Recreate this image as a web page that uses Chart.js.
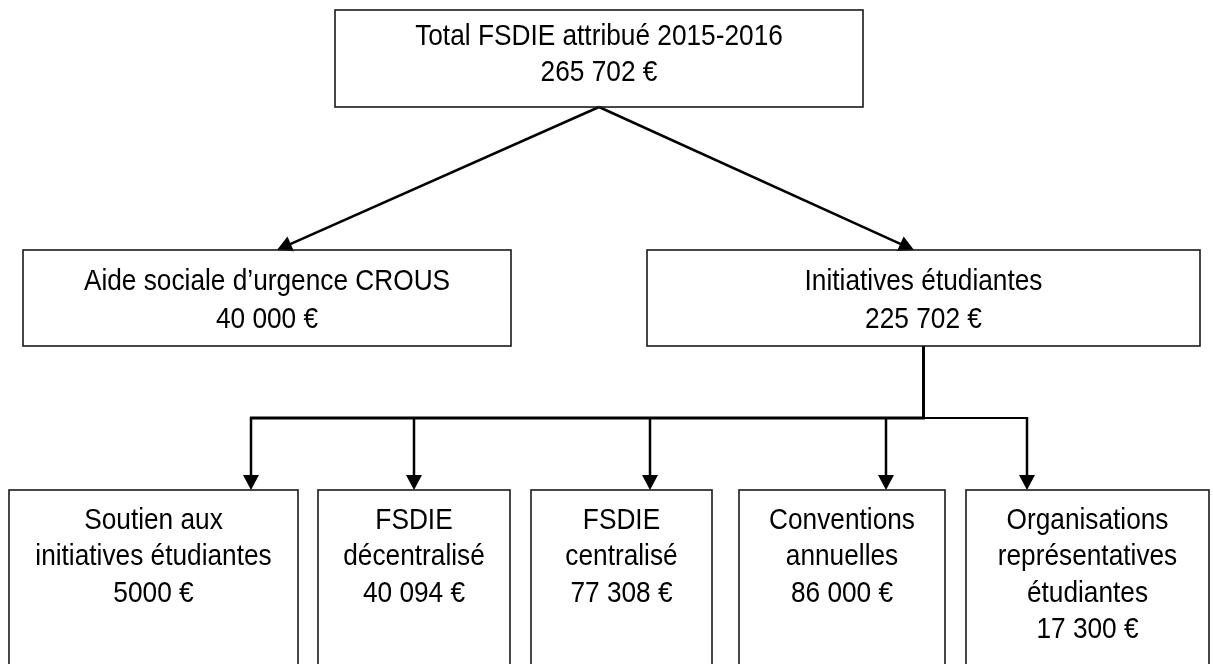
<!DOCTYPE html>
<html>
<head>
<meta charset="utf-8">
<script src="https://cdn.jsdelivr.net/npm/chart.js@4"></script>
<style>
  html, body { margin: 0; padding: 0; background: #ffffff; }
  #wrap { width: 1213px; height: 664px; }
</style>
</head>
<body>
<div id="wrap"><canvas id="c" width="1213" height="664"></canvas></div>
<script>
// ---------- DATA ----------
const nodeLabels = [
  ["Total FSDIE attribué 2015-2016"],
  ["Aide sociale d’urgence CROUS"],
  ["Initiatives étudiantes"],
  ["Soutien aux", "initiatives étudiantes"],
  ["FSDIE", "décentralisé"],
  ["FSDIE", "centralisé"],
  ["Conventions", "annuelles"],
  ["Organisations", "représentatives", "étudiantes"]
];
const nodeValues = [265702, 40000, 225702, 5000, 40094, 77308, 86000, 17300];
const nodeParents = [null, 0, 0, 2, 2, 2, 2, 2];
const currency = "€";

// ---------- LAYOUT (diagram units, drawn through the chart scales) ----------
const boxLeft   = [335, 23, 647, 9, 318, 531, 739, 966];
const boxRight  = [863, 511, 1200, 298, 510, 712, 945, 1209];
const rowTop    = [10, 250, 490];
const rowBottom = [107, 346, 720];
const nodeRow   = [0, 1, 1, 2, 2, 2, 2, 2];
const rowFirstBaseline = [35, 40, 39];
const rowLineGap = [36, 38, 36.3];
const arrowTargetX = [null, 277, 914, 251, 414, 650, 886, 1027];
const busY = 418;

function fmt(v) {
  const s = String(v);
  if (v < 10000) return s + " " + currency;
  return s.replace(/\B(?=(\d{3})+(?!\d))/g, " ") + " " + currency;
}

const diagramPlugin = {
  id: 'diagram',
  beforeDraw(chart) {
    const ctx = chart.ctx;
    ctx.save();
    ctx.fillStyle = '#ffffff';
    ctx.fillRect(0, 0, chart.width, chart.height);
    ctx.restore();
  },
  afterDatasetsDraw(chart) {
    const ctx = chart.ctx;
    const X = v => chart.scales.x.getPixelForValue(v);
    const Y = v => chart.scales.y.getPixelForValue(v);

    function arrowHead(tx, ty, fx, fy, len, half) {
      const ang = Math.atan2(ty - fy, tx - fx);
      ctx.beginPath();
      ctx.moveTo(tx, ty);
      ctx.lineTo(tx - len * Math.cos(ang) + half * Math.sin(ang), ty - len * Math.sin(ang) - half * Math.cos(ang));
      ctx.lineTo(tx - len * Math.cos(ang) - half * Math.sin(ang), ty - len * Math.sin(ang) + half * Math.cos(ang));
      ctx.closePath();
      ctx.fill();
    }

    ctx.save();
    ctx.strokeStyle = '#000000';
    ctx.fillStyle = '#000000';
    ctx.lineCap = 'butt';

    // Level-1 -> level-2 diagonal arrows
    nodeLabels.forEach((_, i) => {
      const p = nodeParents[i];
      if (p === 0) {
        const sx = X((boxLeft[p] + boxRight[p]) / 2);
        const sy = Y(rowBottom[nodeRow[p]]);
        const tx = X(arrowTargetX[i]);
        const ty = Y(rowTop[nodeRow[i]]);
        const ang = Math.atan2(ty - sy, tx - sx);
        ctx.lineWidth = 2.5;
        ctx.beginPath();
        ctx.moveTo(sx, sy);
        ctx.lineTo(tx - 12 * Math.cos(ang), ty - 12 * Math.sin(ang));
        ctx.stroke();
        arrowHead(tx, ty, sx, sy, 15, 8);
      }
    });

    // Level-2 -> level-3 orthogonal connectors
    const kids = nodeLabels.map((_, i) => i).filter(i => nodeParents[i] === 2);
    const trunkX = X((boxLeft[2] + boxRight[2]) / 2);
    const xs = kids.map(i => X(arrowTargetX[i]));
    const minX = Math.min(...xs), maxX = Math.max(...xs);
    const by = Y(busY);
    ctx.lineWidth = 3;
    ctx.beginPath();
    ctx.moveTo(trunkX, Y(rowBottom[1]));
    ctx.lineTo(trunkX, by);
    ctx.stroke();
    ctx.beginPath();
    ctx.moveTo(minX - 1, by);
    ctx.lineTo(trunkX + 1.5, by);
    ctx.stroke();
    ctx.lineWidth = 2;
    ctx.beginPath();
    ctx.moveTo(trunkX, by);
    ctx.lineTo(maxX + 1, by);
    ctx.stroke();
    kids.forEach(i => {
      const x = X(arrowTargetX[i]);
      const ty = Y(rowTop[nodeRow[i]]);
      ctx.lineWidth = 2.5;
      ctx.beginPath();
      ctx.moveTo(x, by - 1);
      ctx.lineTo(x, ty - 12);
      ctx.stroke();
      arrowHead(x, ty, x, by, 15, 8);
    });

    // Boxes and texts
    nodeLabels.forEach((lines, i) => {
      const r = nodeRow[i];
      const l = X(boxLeft[i]), rr = X(boxRight[i]);
      const t = Y(rowTop[r]), b = Y(rowBottom[r]);
      ctx.lineWidth = 1.6;
      ctx.strokeStyle = '#1a1a1a';
      ctx.strokeRect(l, t, rr - l, b - t);

      const all = lines.concat([fmt(nodeValues[i])]);
      const cx = (l + rr) / 2;
      ctx.fillStyle = '#000000';
      ctx.font = '30px "Liberation Sans", Arial, sans-serif';
      ctx.textAlign = 'center';
      ctx.textBaseline = 'alphabetic';
      all.forEach((txt, k) => {
        const yb = t + rowFirstBaseline[r] + k * rowLineGap[r];
        ctx.save();
        ctx.translate(cx, yb);
        ctx.scale(0.875, 1);
        ctx.fillText(txt, 0, 0);
        ctx.restore();
      });
    });
    ctx.restore();
  }
};

const centers = nodeLabels.map((_, i) => ({
  x: (boxLeft[i] + boxRight[i]) / 2,
  y: (rowTop[nodeRow[i]] + Math.min(rowBottom[nodeRow[i]], 664)) / 2
}));

new Chart(document.getElementById('c'), {
  type: 'scatter',
  data: {
    datasets: [{
      label: 'FSDIE',
      data: centers,
      pointRadius: 0,
      pointHoverRadius: 0,
      showLine: false
    }]
  },
  options: {
    responsive: false,
    devicePixelRatio: 1,
    animation: false,
    layout: { padding: 0 },
    plugins: { legend: { display: false }, tooltip: { enabled: false } },
    scales: {
      x: { type: 'linear', min: 0, max: 1213, display: false },
      y: { type: 'linear', min: 0, max: 664, reverse: true, display: false }
    }
  },
  plugins: [diagramPlugin]
});
</script>
</body>
</html>
